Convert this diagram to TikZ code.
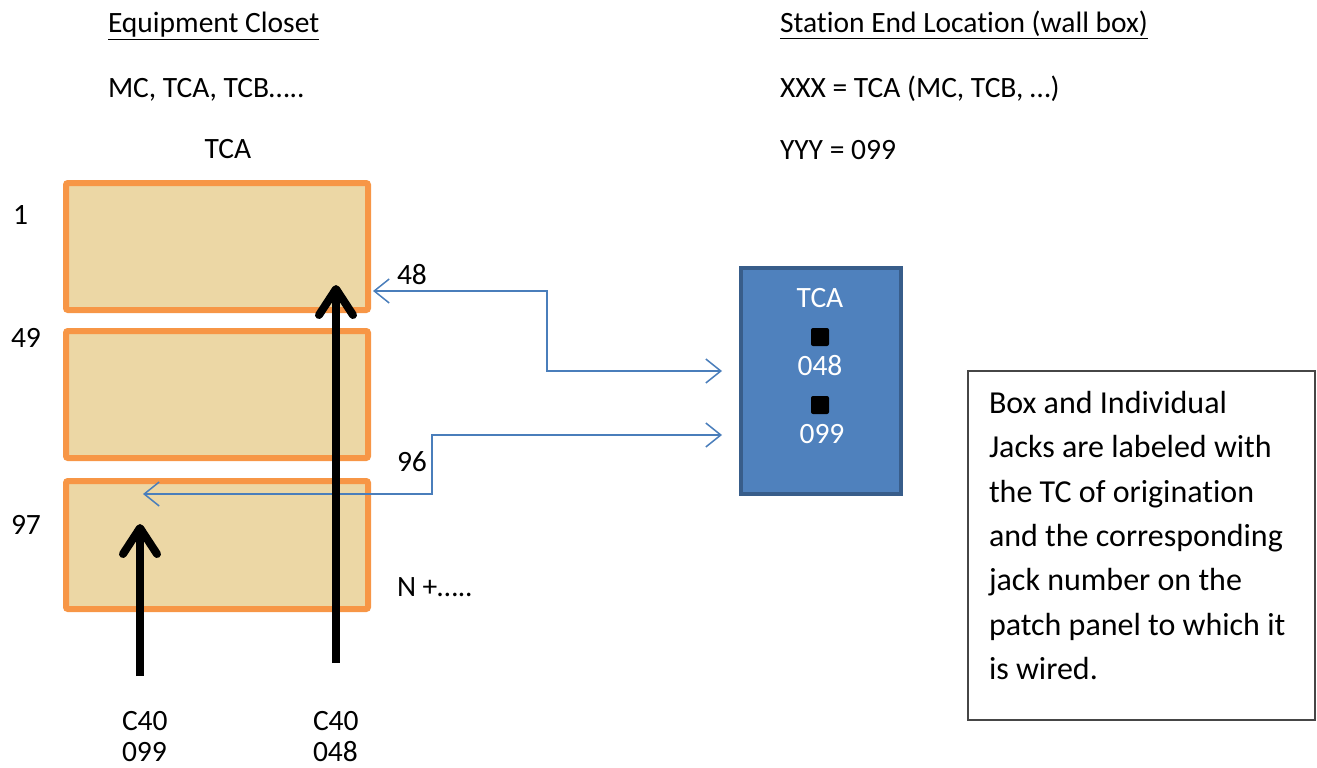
\documentclass[tikz,border=0pt]{standalone}
\usepackage{fontspec}
\setmainfont{Carlito}[Ligatures=NoCommon]
\usetikzlibrary{arrows.meta}
\definecolor{panelorange}{RGB}{247,150,70}
\definecolor{papyrus}{RGB}{236,215,165}
\definecolor{boxblue}{RGB}{79,129,189}
\definecolor{boxedge}{RGB}{56,93,138}
\definecolor{wireblue}{RGB}{74,126,187}
\definecolor{notegray}{RGB}{70,70,70}
\begin{document}
\begin{tikzpicture}[x=1pt,y=-1pt,
  every node/.style={font=\fontsize{29.5}{44.4}\selectfont, inner sep=0pt, outer sep=0pt},
  lbl/.style={anchor=base west},
  panel/.style={draw=panelorange, line width=6pt, fill=papyrus, rounded corners=2pt,
    minimum width=302pt, minimum height=127pt, anchor=north west},
  wallbox/.style={draw=boxedge, line width=4pt, fill=boxblue,
    minimum width=160pt, minimum height=226pt, anchor=north west},
  jack/.style={fill=black, rounded corners=2pt, minimum width=18pt, minimum height=18pt},
  whitelbl/.style={text=white, anchor=base},
  notebox/.style={draw=notegray, line width=1.3pt, minimum width=347pt, minimum height=349pt,
    anchor=north west},
  notetext/.style={anchor=north west, text width=320pt, align=left,
    font=\fontsize{32}{44.4}\selectfont},
  bluewire/.style={draw=wireblue, line width=1.5pt,
    {Straight Barb[length=15pt,width=24pt]}-{Straight Barb[length=15pt,width=24pt]}},
  cable/.style={draw=black, line width=8pt,
    -{Straight Barb[length=26pt,width=34pt,line cap=round,line join=round]}}
]
\useasboundingbox (0,0) rectangle (1317,768);

% headings
\node[lbl] (ecl) at (108,33) {\underline{Equipment Closet}};
\node[lbl] (ecs) at (108,97) {MC, TCA, TCB\dots..};
\node[anchor=base] (tcah) at (228,158) {TCA};
\node[lbl] (sel) at (780,33) {\underline{Station End Location (wall box)}};
\node[lbl] (xxx) at (780,97) {XXX = TCA (MC, TCB, \dots)};
\node[lbl] (yyy) at (780,159) {YYY = 099};

% patch panels
\node[panel] (p1) at (66,183) {};
\node[panel] (p2) at (66,331) {};
\node[panel, minimum height=128pt] (p3) at (66,481) {};

\node[lbl] (n1) at (13,224) {1};
\node[lbl] (n49) at (11,347) {49};
\node[lbl] (n97) at (11,534) {97};
\node[lbl] (n48) at (397,284) {48};
\node[lbl] (n96) at (397,471) {96};
\node[lbl] (nn) at (397,596) {N +\dots..};

% wall box
\node[wallbox] (wb) at (741,268) {};
\node[whitelbl] (wbt) at (820,307) {TCA};
\node[jack] (j1) at (820,337) {};
\node[whitelbl] (j1t) at (820,375) {048};
\node[jack] (j2) at (820,405) {};
\node[whitelbl] (j2t) at (822,443) {099};

% note
\node[notebox] (note) at (968,371) {};
\node[notetext] (notet) at (989,391) {\spaceskip=0pt\xspaceskip=0pt Box and Individual\\Jacks are labeled with\\the TC of origination\\and the corresponding\\jack number on the\\patch panel to which it\\is wired.};

% connector end points
\coordinate (a48) at (373,291);
\coordinate (b48) at (547,291);
\coordinate (e48) at (722,371);
\coordinate (a96) at (143,494);
\coordinate (b96) at (432,494);
\coordinate (e99) at (722,435);
\coordinate (c48s) at (336,663);
\coordinate (c48t) at (336,285);
\coordinate (c99s) at (140,676);
\coordinate (c99t) at (140,524);

\draw[bluewire] (a48) -- (b48) |- (e48);
\draw[bluewire] (a96) -- (b96) |- (e99);

\draw[cable] (c48s) -- (c48t);
\draw[cable] (c99s) -- (c99t);

% cable labels
\node[lbl] (c99a) at (122,730) {C40};
\node[lbl] (c99b) at (122,761) {099};
\node[lbl] (c48a) at (313,730) {C40};
\node[lbl] (c48b) at (313,761) {048};
\end{tikzpicture}
\end{document}
